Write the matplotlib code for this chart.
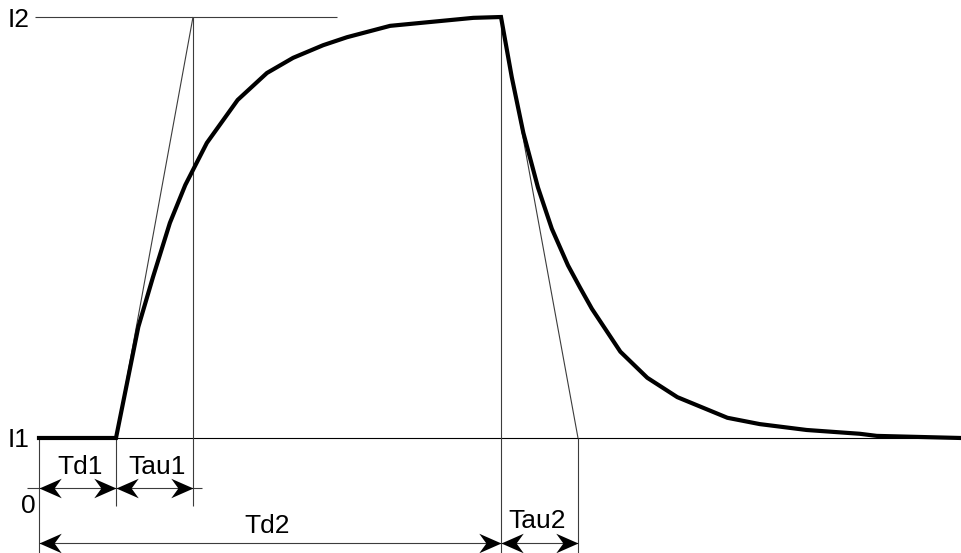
import matplotlib
matplotlib.use("Agg")
import matplotlib.pyplot as plt
from matplotlib.path import Path
from matplotlib.markers import MarkerStyle

# levels and time intervals (time unit = one Td1)
I1, I2 = 0.0, 1.0
td1, tau1, td2, tau2 = 1.0, 1.0, 6.0, 1.0

# current waveform
t_curve = [0.0, 1.0, 1.29, 1.48, 1.70, 1.90, 2.18, 2.58, 2.96, 3.30, 3.69,
           4.00, 4.56, 5.64, 6.0, 6.14, 6.29, 6.48, 6.66, 6.87, 7.03, 7.18, 7.55,
           7.90, 8.29, 8.94, 9.36, 9.97, 10.66, 10.88, 11.97]
i_curve = [0.0, 0.0, 0.264, 0.382, 0.511, 0.601, 0.701, 0.803, 0.867, 0.903, 0.933,
           0.952, 0.979, 0.998, 1.0, 0.857, 0.725, 0.595, 0.497, 0.41, 0.356, 0.307, 0.205,
           0.143, 0.097, 0.048, 0.033, 0.019, 0.010, 0.005, 0.0]

plt.rcParams['font.family'] = ['Liberation Sans', 'DejaVu Sans']
FS = 19
thin = dict(color='#3c3c3c', lw=0.8, solid_capstyle='butt')

fig = plt.figure(figsize=(9.61, 5.53), dpi=100)
ax = fig.add_axes([0, 0, 1, 1])
ax.set_xlim(-0.5065, 11.974)
ax.set_ylim(-0.2732, 1.0404)
ax.axis('off')

# notched arrow heads, tip at the marker origin
codes = [Path.MOVETO, Path.LINETO, Path.LINETO, Path.LINETO, Path.CLOSEPOLY]
head_r = MarkerStyle(Path([(0, 0), (-1, 0.44), (-0.68, 0), (-1, -0.44), (0, 0)], codes))
head_l = MarkerStyle(Path([(0, 0), (1, 0.44), (0.68, 0), (1, -0.44), (0, 0)], codes))
MS = 32

def dim_arrow(x0, x1, y):
    ax.plot([x0], [y], marker=head_l, ms=MS, color='black', mew=0, zorder=5)
    ax.plot([x1], [y], marker=head_r, ms=MS, color='black', mew=0, zorder=5)

# level lines
ax.plot([-0.05, 3.87], [I2, I2], **thin)
ax.plot([-0.01, 11.97], [I1, I1], color='black', lw=0.8)

# tangents
ax.plot([td1, td1 + tau1], [I1, I2], **thin)
ax.plot([td2, td2 + tau2], [I2, I1], **thin)

# vertical guides
y_row1, y_row2 = -0.119, -0.249
ax.plot([0, 0], [I1, -0.2732], **thin)
ax.plot([td1, td1], [I1, -0.162], **thin)
ax.plot([td1 + tau1, td1 + tau1], [I2, -0.162], **thin)
ax.plot([td2, td2], [I2, -0.2732], **thin)
ax.plot([td2 + tau2, td2 + tau2], [I1, -0.2732], **thin)

# dimension lines
ax.plot([-0.156, td1 + tau1 + 0.117], [y_row1, y_row1], **thin)
ax.plot([0, td2 + tau2], [y_row2, y_row2], **thin)
dim_arrow(0, td1, y_row1)
dim_arrow(td1, td1 + tau1, y_row1)
dim_arrow(0, td2, y_row2)
dim_arrow(td2, td2 + tau2, y_row2)

# waveform
ax.plot(t_curve, i_curve, color='black', lw=3, solid_joinstyle='miter', zorder=4)

# labels
ax.text(-0.12, I2 - 0.024, 'I2', fontsize=FS, ha='right', va='baseline')
ax.text(-0.12, I1 - 0.021, 'I1', fontsize=FS, ha='right', va='baseline')
ax.text(-0.143, -0.178, '0', fontsize=FS, ha='center', va='baseline')
ax.text(td1 / 2 + 0.03, -0.0855, 'Td1', fontsize=FS, ha='center', va='baseline')
ax.text(td1 + tau1 / 2 + 0.03, -0.0855, 'Tau1', fontsize=FS, ha='center', va='baseline')
ax.text(td2 / 2 - 0.04, -0.226, 'Td2', fontsize=FS, ha='center', va='baseline')
ax.text(td2 + tau2 / 2 - 0.03, -0.214, 'Tau2', fontsize=FS, ha='center', va='baseline')

fig.savefig('out.png', dpi=100, facecolor='white')
